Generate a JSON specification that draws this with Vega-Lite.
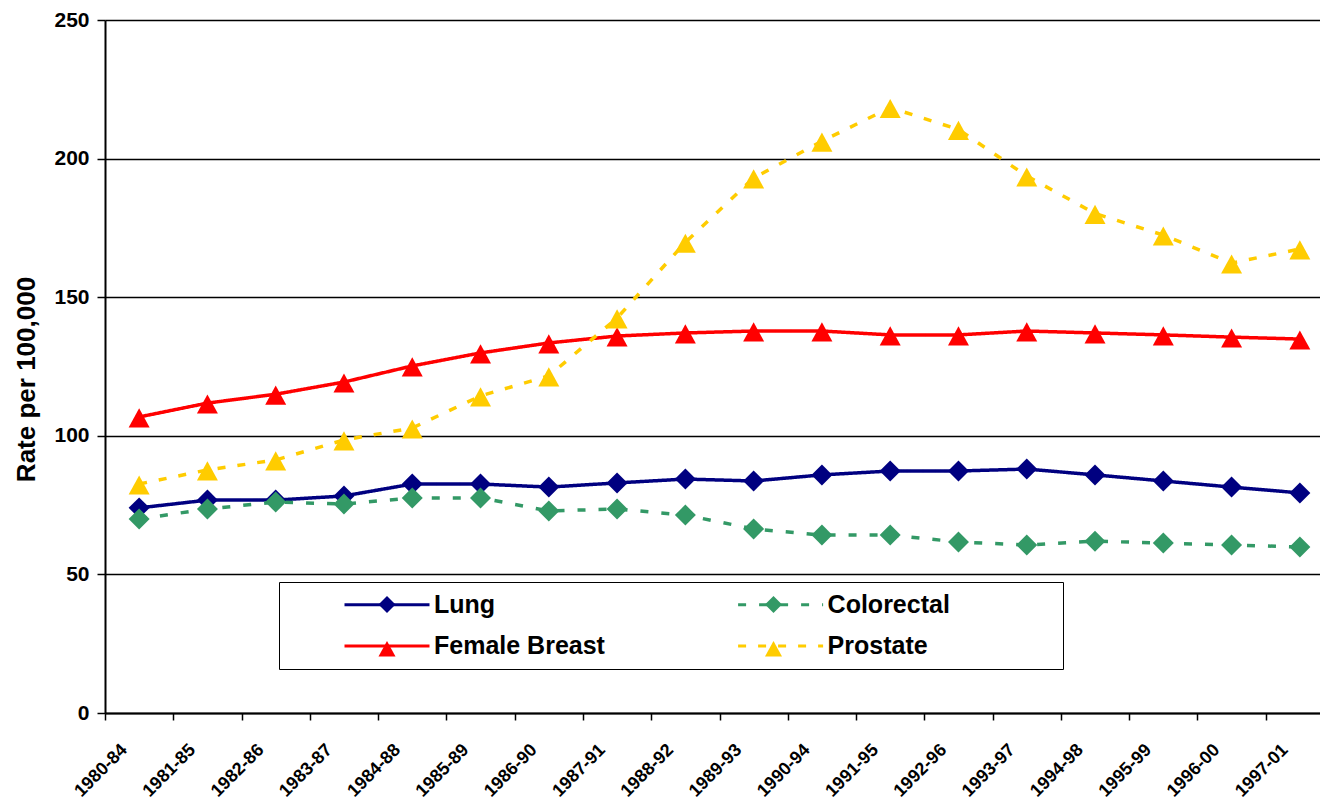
{
  "$schema": "https://vega.github.io/schema/vega-lite/v6.json",
  "width": 1215,
  "height": 693,
  "autosize": {"type": "none"},
  "padding": {"left": 105, "top": 20, "right": 0, "bottom": 90},
  "background": "white",
  "config": {
    "view": {"stroke": null},
    "font": "Liberation Sans"
  },
  "data": {
    "values": [
      {"period": "1980-84", "series": "Lung", "rate": 74.0},
      {"period": "1981-85", "series": "Lung", "rate": 76.8},
      {"period": "1982-86", "series": "Lung", "rate": 76.8},
      {"period": "1983-87", "series": "Lung", "rate": 78.3},
      {"period": "1984-88", "series": "Lung", "rate": 82.6},
      {"period": "1985-89", "series": "Lung", "rate": 82.6},
      {"period": "1986-90", "series": "Lung", "rate": 81.5},
      {"period": "1987-91", "series": "Lung", "rate": 83.0},
      {"period": "1988-92", "series": "Lung", "rate": 84.4},
      {"period": "1989-93", "series": "Lung", "rate": 83.7},
      {"period": "1990-94", "series": "Lung", "rate": 85.9},
      {"period": "1991-95", "series": "Lung", "rate": 87.3},
      {"period": "1992-96", "series": "Lung", "rate": 87.3},
      {"period": "1993-97", "series": "Lung", "rate": 88.0},
      {"period": "1994-98", "series": "Lung", "rate": 85.9},
      {"period": "1995-99", "series": "Lung", "rate": 83.7},
      {"period": "1996-00", "series": "Lung", "rate": 81.5},
      {"period": "1997-01", "series": "Lung", "rate": 79.4},
      {"period": "1980-84", "series": "Colorectal", "rate": 70.0},
      {"period": "1981-85", "series": "Colorectal", "rate": 73.6},
      {"period": "1982-86", "series": "Colorectal", "rate": 76.1},
      {"period": "1983-87", "series": "Colorectal", "rate": 75.4},
      {"period": "1984-88", "series": "Colorectal", "rate": 77.6},
      {"period": "1985-89", "series": "Colorectal", "rate": 77.6},
      {"period": "1986-90", "series": "Colorectal", "rate": 72.9},
      {"period": "1987-91", "series": "Colorectal", "rate": 73.6},
      {"period": "1988-92", "series": "Colorectal", "rate": 71.4},
      {"period": "1989-93", "series": "Colorectal", "rate": 66.4},
      {"period": "1990-94", "series": "Colorectal", "rate": 64.2},
      {"period": "1991-95", "series": "Colorectal", "rate": 64.2},
      {"period": "1992-96", "series": "Colorectal", "rate": 61.7},
      {"period": "1993-97", "series": "Colorectal", "rate": 60.6},
      {"period": "1994-98", "series": "Colorectal", "rate": 62.0},
      {"period": "1995-99", "series": "Colorectal", "rate": 61.3},
      {"period": "1996-00", "series": "Colorectal", "rate": 60.6},
      {"period": "1997-01", "series": "Colorectal", "rate": 59.9},
      {"period": "1980-84", "series": "Female Breast", "rate": 106.8},
      {"period": "1981-85", "series": "Female Breast", "rate": 111.8},
      {"period": "1982-86", "series": "Female Breast", "rate": 115.0},
      {"period": "1983-87", "series": "Female Breast", "rate": 119.4},
      {"period": "1984-88", "series": "Female Breast", "rate": 125.2},
      {"period": "1985-89", "series": "Female Breast", "rate": 129.9},
      {"period": "1986-90", "series": "Female Breast", "rate": 133.5},
      {"period": "1987-91", "series": "Female Breast", "rate": 136.0},
      {"period": "1988-92", "series": "Female Breast", "rate": 137.1},
      {"period": "1989-93", "series": "Female Breast", "rate": 137.8},
      {"period": "1990-94", "series": "Female Breast", "rate": 137.8},
      {"period": "1991-95", "series": "Female Breast", "rate": 136.4},
      {"period": "1992-96", "series": "Female Breast", "rate": 136.4},
      {"period": "1993-97", "series": "Female Breast", "rate": 137.8},
      {"period": "1994-98", "series": "Female Breast", "rate": 137.1},
      {"period": "1995-99", "series": "Female Breast", "rate": 136.4},
      {"period": "1996-00", "series": "Female Breast", "rate": 135.6},
      {"period": "1997-01", "series": "Female Breast", "rate": 134.9},
      {"period": "1980-84", "series": "Prostate", "rate": 82.6},
      {"period": "1981-85", "series": "Prostate", "rate": 87.7},
      {"period": "1982-86", "series": "Prostate", "rate": 91.3},
      {"period": "1983-87", "series": "Prostate", "rate": 98.5},
      {"period": "1984-88", "series": "Prostate", "rate": 102.8},
      {"period": "1985-89", "series": "Prostate", "rate": 114.4},
      {"period": "1986-90", "series": "Prostate", "rate": 121.6},
      {"period": "1987-91", "series": "Prostate", "rate": 142.5},
      {"period": "1988-92", "series": "Prostate", "rate": 169.8},
      {"period": "1989-93", "series": "Prostate", "rate": 193.0},
      {"period": "1990-94", "series": "Prostate", "rate": 206.3},
      {"period": "1991-95", "series": "Prostate", "rate": 218.4},
      {"period": "1992-96", "series": "Prostate", "rate": 210.5},
      {"period": "1993-97", "series": "Prostate", "rate": 193.7},
      {"period": "1994-98", "series": "Prostate", "rate": 180.2},
      {"period": "1995-99", "series": "Prostate", "rate": 172.4},
      {"period": "1996-00", "series": "Prostate", "rate": 162.3},
      {"period": "1997-01", "series": "Prostate", "rate": 167.4}
    ]
  },
  "encoding": {
    "x": {
      "field": "period",
      "type": "ordinal",
      "sort": null,
      "scale": {"type": "band", "range": [0, 1229], "paddingInner": 0, "paddingOuter": 0},
      "axis": {
        "title": null,
        "tickBand": "extent",
        "grid": false,
        "domainColor": "black",
        "domainWidth": 2,
        "tickColor": "black",
        "tickWidth": 1.5,
        "tickSize": 7,
        "labelAngle": -45,
        "labelAlign": "right",
        "labelBaseline": "middle",
        "labelOffset": -15,
        "labelPadding": 27,
        "labelFont": "Liberation Sans",
        "labelFontSize": 18,
        "labelFontWeight": "bold",
        "labelColor": "black",
        "labelOverlap": false
      }
    },
    "y": {
      "field": "rate",
      "type": "quantitative",
      "scale": {"domain": [0, 250], "nice": false, "zero": true},
      "axis": {
        "title": "Rate per 100,000",
        "values": [0, 50, 100, 150, 200, 250],
        "grid": true,
        "gridColor": "black",
        "gridWidth": 1.6,
        "domainColor": "black",
        "domainWidth": 2,
        "tickColor": "black",
        "tickWidth": 1.5,
        "tickSize": 8,
        "labelPadding": 8,
        "labelFont": "Liberation Sans",
        "labelFontSize": 21,
        "labelFontWeight": "bold",
        "labelColor": "black",
        "titleFont": "Liberation Sans",
        "titleFontSize": 26,
        "titleFontWeight": "bold",
        "titleColor": "black",
        "titleX": -79,
        "titleY": 359,
        "titleAngle": -90,
        "titleAlign": "center",
        "titleBaseline": "middle"
      }
    }
  },
  "resolve": {"legend": {"color": "independent", "strokeDash": "independent", "shape": "independent"}},
  "layer": [
    {
      "mark": {"type": "line", "strokeWidth": 3.5},
      "encoding": {
        "color": {
          "field": "series",
          "type": "nominal",
          "scale": {
            "domain": ["Lung", "Colorectal", "Female Breast", "Prostate"],
            "range": ["#000080", "#339966", "#FF0000", "#FFCC00"]
          },
          "legend": {
            "title": " ", "titleOrient": "right", "titleFontSize": 1, "titlePadding": 103,
            "orient": "none", "legendX": 174, "legendY": 562, "direction": "horizontal", "columns": 2,
            "padding": 10, "rowPadding": 15.5, "columnPadding": 77.6,
            "symbolType": "M-4.25,0H4.25", "symbolSize": 400, "symbolStrokeWidth": 3,
            "symbolOffset": 85.5, "labelOffset": 34.5,
            "labelFont": "Liberation Sans", "labelFontSize": 25, "labelFontWeight": "bold",
            "labelColor": "black", "labelLimit": 400, "strokeColor": "black"
          }
        },
        "strokeDash": {
          "field": "series",
          "type": "nominal",
          "scale": {
            "domain": ["Lung", "Colorectal", "Female Breast", "Prostate"],
            "range": [[1, 0], [8, 13], [1, 0], [8, 12]]
          },
          "legend": {
            "title": " ", "titleOrient": "right", "titleFontSize": 1, "titlePadding": 103,
            "orient": "none", "legendX": 174, "legendY": 562, "direction": "horizontal", "columns": 2,
            "padding": 10, "rowPadding": 15.5, "columnPadding": 77.6,
            "symbolType": "M-4.25,0H4.25", "symbolSize": 400, "symbolStrokeWidth": 3,
            "symbolOffset": 85.5, "labelOffset": 34.5,
            "labelFont": "Liberation Sans", "labelFontSize": 25, "labelFontWeight": "bold",
            "labelColor": "black", "labelLimit": 400, "strokeColor": "black"
          }
        }
      }
    },
    {
      "mark": {"type": "point", "filled": true, "opacity": 1, "strokeWidth": 0, "size": 610},
      "encoding": {
        "color": {
          "field": "series",
          "type": "nominal",
          "scale": {
            "domain": ["Lung", "Colorectal", "Female Breast", "Prostate"],
            "range": ["#000080", "#339966", "#FF0000", "#FFCC00"]
          },
          "legend": {
            "title": " ", "titleOrient": "right", "titleFontSize": 1, "titlePadding": 103,
            "orient": "none", "legendX": 174, "legendY": 562, "direction": "horizontal", "columns": 2,
            "padding": 10, "rowPadding": 15.5, "columnPadding": 241.5,
            "symbolSize": 400, "symbolStrokeWidth": 3, "symbolStrokeColor": "transparent",
            "symbolOffset": 85.5, "labelOffset": 34.5, "labelExpr": "' '",
            "labelFont": "Liberation Sans", "labelFontSize": 25, "labelFontWeight": "bold",
            "labelColor": "transparent", "labelLimit": 400, "strokeColor": "transparent"
          }
        },
        "shape": {
          "field": "series",
          "type": "nominal",
          "scale": {
            "domain": ["Lung", "Colorectal", "Female Breast", "Prostate"],
            "range": ["M0,-0.85L0.85,0L0,0.85L-0.85,0Z", "M0,-0.85L0.85,0L0,0.85L-0.85,0Z", "M0,-0.7L0.85,0.85L-0.85,0.85Z", "M0,-0.7L0.85,0.85L-0.85,0.85Z"]
          },
          "legend": {
            "title": " ", "titleOrient": "right", "titleFontSize": 1, "titlePadding": 103,
            "orient": "none", "legendX": 174, "legendY": 562, "direction": "horizontal", "columns": 2,
            "padding": 10, "rowPadding": 15.5, "columnPadding": 241.5,
            "symbolSize": 400, "symbolStrokeWidth": 3, "symbolStrokeColor": "transparent",
            "symbolOffset": 85.5, "labelOffset": 34.5, "labelExpr": "' '",
            "labelFont": "Liberation Sans", "labelFontSize": 25, "labelFontWeight": "bold",
            "labelColor": "transparent", "labelLimit": 400, "strokeColor": "transparent"
          }
        }
      }
    }
  ]
}
